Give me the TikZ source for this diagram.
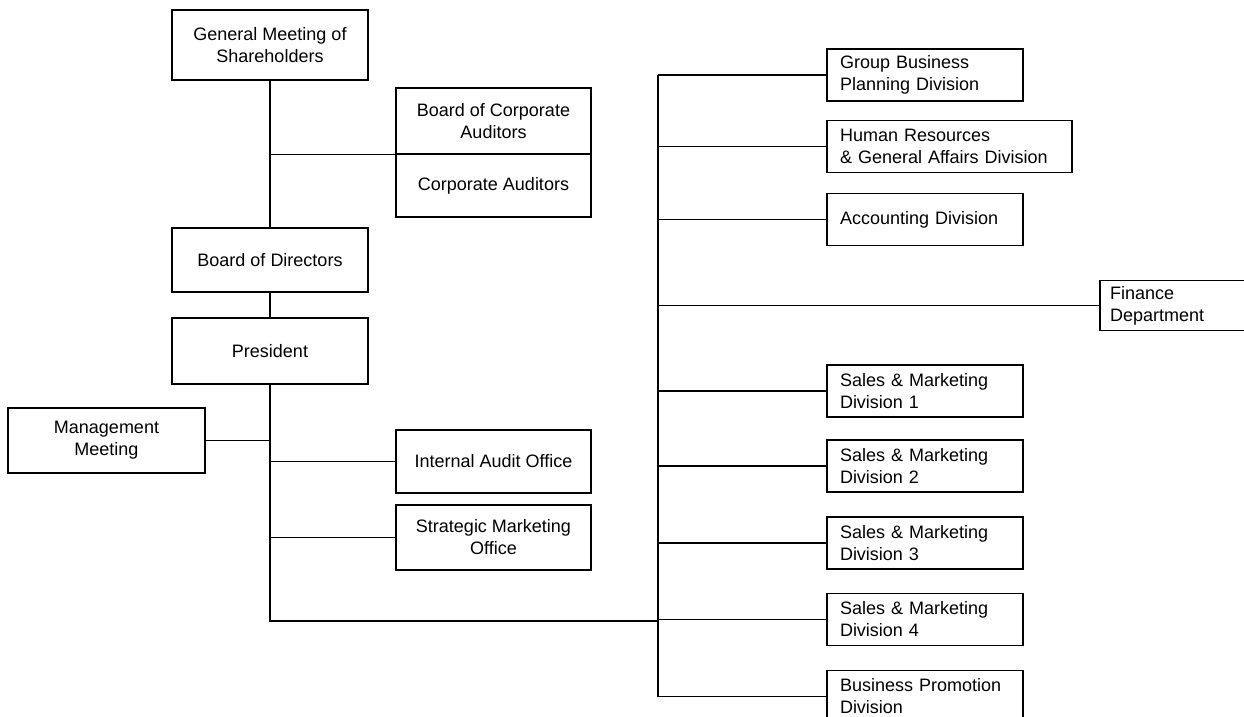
\documentclass[tikz,border=0pt]{standalone}
\usepackage{fontspec}
\setmainfont{Liberation Sans}
\begin{document}
\begin{tikzpicture}[x=0.5pt,y=-0.5pt,font=\fontsize{9}{11}\selectfont,line width=0.75pt,
  box/.style={draw,line width=0.75pt,inner sep=0pt,align=center,minimum width=98pt,minimum height=33pt},
  divbox/.style={draw,line width=0.75pt,inner xsep=6.5pt,inner ysep=0pt,align=left,text width=85pt,minimum height=26pt},
  trunk/.style={line width=1.25pt}]
  \useasboundingbox (0,0) rectangle (1244,717);
  % governance column
  \node[box,minimum height=35pt] (gm) at (270,45) {General Meeting of\\Shareholders};
  \node[box,minimum width=97.5pt] (bca) at (493.5,121) {Board of Corporate\\Auditors};
  \node[box,minimum width=97.5pt,minimum height=31.5pt] (ca) at (493.5,185.5) {Corporate Auditors};
  \node[box,minimum height=32pt] (bod) at (270,260) {Board of Directors};
  \node[box] (pres) at (270,351) {President};
  \node[box,minimum width=98.5pt,minimum height=32.5pt] (mm) at (106.5,440.5) {Management\\Meeting};
  \node[box,minimum width=97.5pt,minimum height=31.5pt] (ia) at (493.5,461.5) {Internal Audit Office};
  \node[box,minimum width=97.5pt,minimum height=32.5pt] (sm) at (493.5,537.5) {Strategic Marketing\\Office};
  % divisions
  \node[divbox] (gbp) at (925,75) {Group Business\\Planning Division};
  \node[divbox,text width=109.5pt] (hr) at (949.5,146.5) {Human Resources\\\& General Affairs Division};
  \node[divbox] (acc) at (925,219.5) {Accounting Division};
  \node[divbox,inner xsep=5pt,text width=75pt,minimum height=25pt] (fin) at (1185,305.5) {Finance\\Department};
  \foreach \k/\y in {1/391,2/466,3/543,4/619.5}
    \node[divbox] (s\k) at (925,\y) {Sales \& Marketing\\Division \k};
  \node[divbox] (bp) at (925,696.5) {Business Promotion\\Division};
  \coordinate (jr) at (658,621);
  \coordinate (rt) at (658,0);
  % connectors
  \draw (gm.south) -- (bod.north);
  \draw (gm.south |- bca.south) -- (bca.south west);
  \draw (bod.south) -- (pres.north);
  \draw[trunk] (pres.south) |- (jr);
  \foreach \n in {mm} \draw (\n.east) -- (\n.east -| pres.south);
  \foreach \n in {ia,sm} \draw (\n.west -| pres.south) -- (\n.west);
  \draw (gbp.west -| rt) -- (bp.west -| rt);
  \draw[trunk] (fin.west -| jr) -- (jr);
  \foreach \n in {gbp,hr,acc,fin,s1,s2,s3,s4,bp} \draw (\n.west -| rt) -- (\n.west);
\end{tikzpicture}
\end{document}
